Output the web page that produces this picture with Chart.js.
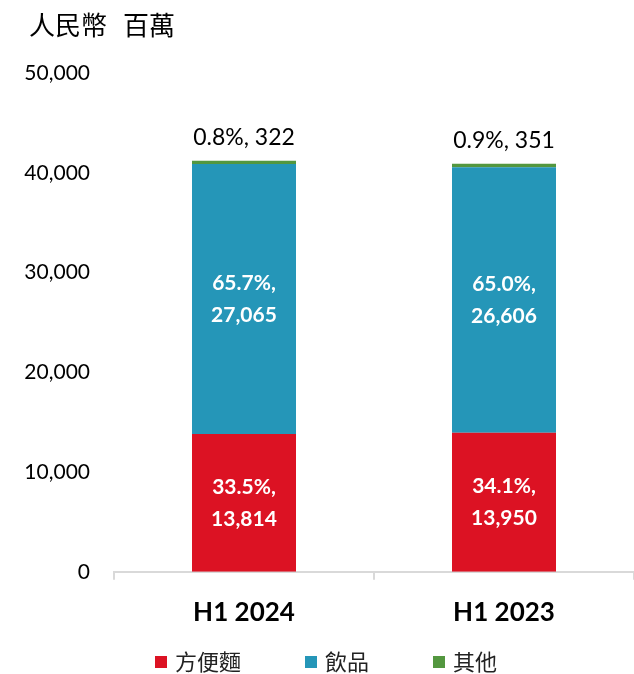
<!DOCTYPE html>
<html><head><meta charset="utf-8">
<script src="https://cdn.jsdelivr.net/npm/chart.js@4/dist/chart.umd.min.js"></script>
<style>html,body{margin:0;padding:0;background:#fff}#wrap{width:634px;height:674px;position:relative}</style>
</head><body><div id="wrap"><canvas id="c" width="634" height="674"></canvas></div>
<script>
const categories = ['H1 2024', 'H1 2023'];
const seriesNames = ['方便麵', '飲品', '其他'];
const noodles = [13814, 13950];
const drinks = [27065, 26606];
const others = [322, 351];
const yTicks = [0, 10000, 20000, 30000, 40000, 50000];
const unitTitle = '人民幣 百萬';
const colors = ['#DC1223', '#2596B8', '#53973F'];

const latin = 'Lato, "Noto Sans CJK TC", sans-serif';
const cjk = '"Noto Sans CJK TC", Lato, sans-serif';

const labelPlugin = {
  id: 'labels',
  afterDatasetsDraw(chart) {
    const ctx = chart.ctx;
    const totals = categories.map((_, i) => chart.data.datasets.reduce((s, d) => s + d.data[i], 0));
    chart.data.datasets.forEach((ds, di) => {
      const meta = chart.getDatasetMeta(di);
      meta.data.forEach((bar, i) => {
        const v = ds.data[i];
        const pct = (v / totals[i] * 100).toFixed(1) + '%,';
        const num = v.toLocaleString('en-US');
        ctx.save();
        ctx.textAlign = 'center';
        ctx.textBaseline = 'middle';
        if (di < 2) {
          ctx.fillStyle = '#fff';
          ctx.font = 'bold 21px ' + latin;
          const cy = (bar.y + bar.base) / 2;
          ctx.fillText(pct, bar.x, cy - 16);
          ctx.fillText(num, bar.x, cy + 16);
        } else {
          ctx.fillStyle = '#000';
          ctx.font = '23px ' + latin;
          ctx.fillText(pct + ' ' + num, bar.x, bar.y - 23);
        }
        ctx.restore();
      });
    });
    // unit title
    ctx.save();
    ctx.fillStyle = '#000';
    ctx.font = '26px ' + cjk;
    ctx.textAlign = 'left';
    ctx.textBaseline = 'middle';
    const words = unitTitle.split(' ');
    ctx.fillText(words[0], 29, 25);
    ctx.fillText(words[1], 123, 25);
    // legend
    ctx.font = '22px ' + cjk;
    let x = 155;
    const ly = 662;
    chart.data.datasets.forEach(ds => {
      ctx.fillStyle = ds.backgroundColor;
      ctx.fillRect(x, ly - 6, 12, 12);
      ctx.fillStyle = '#222';
      ctx.fillText(ds.label, x + 20, ly);
      x += 20 + ctx.measureText(ds.label).width + 64;
    });
    ctx.restore();
  }
};

new Chart(document.getElementById('c'), {
  type: 'bar',
  data: {
    labels: categories,
    datasets: [
      { label: seriesNames[0], data: noodles, backgroundColor: colors[0] },
      { label: seriesNames[1], data: drinks, backgroundColor: colors[1] },
      { label: seriesNames[2], data: others, backgroundColor: colors[2] }
    ]
  },
  options: {
    responsive: false,
    animation: false,
    devicePixelRatio: 1,
    layout: { padding: { top: 73, left: 0, right: 0, bottom: 29 } },
    datasets: { bar: { barPercentage: 0.4, categoryPercentage: 1 } },
    scales: {
      x: {
        stacked: true,
        grid: { display: true, drawOnChartArea: false, drawTicks: true, tickLength: 8, offset: true, color: '#d9d9d9', lineWidth: 2 },
        border: { display: true, color: '#d9d9d9', width: 2 },
        ticks: { color: '#000', font: { family: latin, size: 26, weight: 'bold' }, padding: 17 }
      },
      y: {
        stacked: true,
        min: 0, max: 50000,
        afterBuildTicks(scale) { scale.ticks = yTicks.map(v => ({ value: v })); },
        afterFit(scale) { scale.width = 114; },
        grid: { display: false, drawTicks: false },
        border: { display: false },
        ticks: { color: '#000', padding: 24, font: { family: latin, size: 21 }, callback: v => v.toLocaleString('en-US') }
      }
    },
    plugins: {
      tooltip: { enabled: false },
      legend: { display: false }
    }
  },
  plugins: [labelPlugin]
});
</script></body></html>
